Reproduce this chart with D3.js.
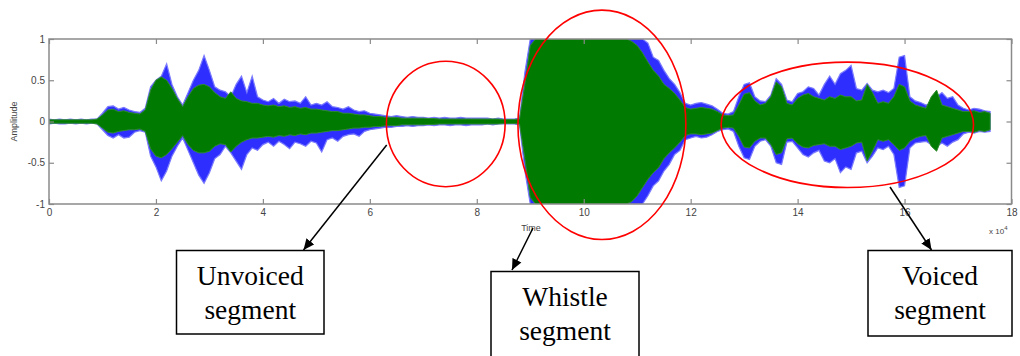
<!DOCTYPE html>
<html><head><meta charset="utf-8">
<script src="https://cdn.jsdelivr.net/npm/d3@7"></script>
<style>body{margin:0;background:#fff}svg{display:block}</style>
</head><body>
<svg id="c" width="1020" height="356"></svg>
<script>
// ---- data (time in units of 10^4 samples, amplitude -1..1) ----
const xTicks = [0,2,4,6,8,10,12,14,16,18];
const yTicks = [-1,-0.5,0,0.5,1];
const yTickLabels = ["-1","-0.5","0","0.5","1"];
const sampleStep = 0.1; // envelope read every 0.1 x 10^4 samples
const greenUp = [
0.02,0.02,0.02,0.02,0.02,0.02,0.02,0.02,0.02,0.03,
0.08,0.14,0.15,0.12,0.13,0.11,0.10,0.09,0.14,0.38,
0.50,0.54,0.50,0.40,0.28,0.18,0.30,0.40,0.44,0.45,
0.42,0.35,0.30,0.28,0.36,0.28,0.25,0.24,0.22,0.22,
0.20,0.19,0.20,0.18,0.19,0.17,0.18,0.16,0.17,0.15,
0.15,0.14,0.13,0.12,0.12,0.10,0.10,0.09,0.08,0.08,
0.07,0.06,0.06,0.05,0.05,0.05,0.04,0.04,0.04,0.04,
0.04,0.035,0.035,0.03,0.03,0.03,0.03,0.03,0.03,0.03,
0.03,0.03,0.03,0.03,0.03,0.025,0.025,0.025,0.03,0.45,
0.92,1,1,1,1,1,1,1,1,1,
1,1,1,1,1,1,1,1,1,0.97,
0.92,0.83,0.72,0.62,0.55,0.45,0.40,0.34,0.26,0.17,
0.15,0.16,0.17,0.16,0.15,0.12,0.08,0.07,0.08,0.20,
0.33,0.35,0.25,0.20,0.22,0.30,0.48,0.42,0.22,0.20,
0.28,0.32,0.34,0.30,0.28,0.26,0.30,0.28,0.32,0.30,
0.30,0.25,0.26,0.45,0.35,0.22,0.24,0.22,0.30,0.45,
0.42,0.25,0.20,0.18,0.16,0.30,0.38,0.20,0.18,0.16,
0.14,0.12,0.12,0.13,0.11,0.12,0.10];
const greenLo = [
-0.02,-0.02,-0.02,-0.02,-0.02,-0.02,-0.02,-0.02,-0.02,-0.03,
-0.08,-0.13,-0.14,-0.12,-0.11,-0.10,-0.10,-0.09,-0.12,-0.33,
-0.42,-0.44,-0.40,-0.33,-0.25,-0.17,-0.28,-0.35,-0.38,-0.38,
-0.36,-0.30,-0.27,-0.28,-0.37,-0.30,-0.25,-0.22,-0.20,-0.20,
-0.19,-0.18,-0.19,-0.17,-0.18,-0.16,-0.17,-0.15,-0.16,-0.14,
-0.14,-0.13,-0.12,-0.11,-0.11,-0.10,-0.09,-0.08,-0.08,-0.07,
-0.07,-0.06,-0.06,-0.05,-0.05,-0.05,-0.04,-0.04,-0.04,-0.04,
-0.04,-0.035,-0.035,-0.03,-0.03,-0.03,-0.03,-0.03,-0.03,-0.03,
-0.03,-0.03,-0.03,-0.03,-0.03,-0.025,-0.025,-0.025,-0.03,-0.45,
-0.92,-1,-1,-1,-1,-1,-1,-1,-1,-1,
-1,-1,-1,-1,-1,-1,-1,-1,-1,-0.97,
-0.90,-0.80,-0.70,-0.62,-0.56,-0.45,-0.38,-0.32,-0.25,-0.17,
-0.15,-0.15,-0.16,-0.15,-0.14,-0.11,-0.08,-0.07,-0.08,-0.18,
-0.31,-0.32,-0.24,-0.20,-0.20,-0.28,-0.40,-0.38,-0.21,-0.20,
-0.27,-0.31,-0.32,-0.29,-0.28,-0.27,-0.30,-0.30,-0.34,-0.32,
-0.30,-0.26,-0.25,-0.48,-0.36,-0.22,-0.24,-0.22,-0.28,-0.35,
-0.32,-0.24,-0.20,-0.18,-0.17,-0.30,-0.36,-0.20,-0.18,-0.16,
-0.14,-0.12,-0.12,-0.13,-0.11,-0.12,-0.10];
const blueUp = [
0.03,0.02,0.03,0.02,0.03,0.02,0.03,0.02,0.03,0.03,
0.10,0.18,0.19,0.15,0.17,0.14,0.12,0.11,0.16,0.42,
0.50,0.55,0.70,0.45,0.30,0.20,0.35,0.50,0.62,0.80,
0.62,0.42,0.38,0.36,0.30,0.45,0.55,0.35,0.55,0.30,
0.26,0.24,0.28,0.22,0.27,0.24,0.25,0.22,0.30,0.20,
0.22,0.20,0.24,0.18,0.17,0.15,0.18,0.14,0.12,0.13,
0.10,0.09,0.08,0.07,0.06,0.07,0.06,0.05,0.06,0.05,
0.05,0.04,0.05,0.04,0.05,0.04,0.04,0.05,0.04,0.04,
0.04,0.04,0.04,0.03,0.04,0.03,0.03,0.03,0.04,0.60,
1,1,1,1,1,1,1,1,1,1,
1,1,1,1,1,1,1,1,1,1,
1.0,1.0,0.95,0.78,0.74,0.62,0.52,0.45,0.35,0.22,
0.20,0.22,0.23,0.21,0.19,0.15,0.10,0.09,0.12,0.30,
0.45,0.47,0.30,0.25,0.24,0.32,0.52,0.45,0.26,0.24,
0.34,0.36,0.42,0.40,0.32,0.45,0.55,0.45,0.58,0.62,
0.68,0.40,0.38,0.46,0.38,0.36,0.38,0.35,0.40,0.78,
0.80,0.30,0.25,0.23,0.20,0.22,0.30,0.35,0.28,0.30,
0.20,0.16,0.14,0.16,0.15,0.13,0.12];
const blueLo = [
-0.03,-0.02,-0.03,-0.03,-0.02,-0.03,-0.02,-0.03,-0.02,-0.03,
-0.10,-0.17,-0.20,-0.16,-0.20,-0.19,-0.13,-0.11,-0.13,-0.42,
-0.55,-0.72,-0.60,-0.42,-0.30,-0.20,-0.35,-0.50,-0.65,-0.75,
-0.62,-0.45,-0.40,-0.30,-0.38,-0.48,-0.58,-0.40,-0.32,-0.35,
-0.28,-0.25,-0.30,-0.24,-0.28,-0.33,-0.25,-0.27,-0.30,-0.24,
-0.26,-0.37,-0.22,-0.20,-0.24,-0.18,-0.16,-0.15,-0.18,-0.12,
-0.10,-0.09,-0.08,-0.07,-0.07,-0.06,-0.06,-0.05,-0.06,-0.05,
-0.05,-0.04,-0.05,-0.04,-0.04,-0.05,-0.04,-0.04,-0.05,-0.04,
-0.04,-0.04,-0.03,-0.04,-0.03,-0.03,-0.03,-0.03,-0.04,-0.60,
-1,-1,-1,-1,-1,-1,-1,-1,-1,-1,
-1,-1,-1,-1,-1,-1,-1,-1,-1,-1,
-1.0,-1.0,-0.90,-0.78,-0.72,-0.60,-0.52,-0.40,-0.35,-0.22,
-0.20,-0.18,-0.20,-0.19,-0.16,-0.12,-0.10,-0.09,-0.12,-0.30,
-0.44,-0.46,-0.30,-0.24,-0.22,-0.30,-0.50,-0.52,-0.25,-0.24,
-0.32,-0.40,-0.43,-0.38,-0.35,-0.48,-0.50,-0.45,-0.62,-0.55,
-0.58,-0.38,-0.36,-0.50,-0.42,-0.32,-0.34,-0.30,-0.40,-0.80,
-0.78,-0.32,-0.26,-0.25,-0.24,-0.28,-0.30,-0.26,-0.30,-0.25,
-0.22,-0.15,-0.13,-0.14,-0.12,-0.13,-0.12];
// highlighted segments (ellipses in data units)
const segNames = ["Unvoiced","Whistle","Voiced"];
const segCenterT = [7.42, 10.34, 14.93];
const segCenterA = [-0.03, -0.04, -0.04];
const segRadT = [1.11, 1.57, 2.36];
const segRadA = [0.76, 1.39, 0.76];

// ---- drawing ----
const svg = d3.select("#c");
const W = 1020, H = 356;
const m = {l:49, r:8, t:39, b:152};
const x = d3.scaleLinear().domain([0,18]).range([m.l, W - m.r - 0.5]);
const y = d3.scaleLinear().domain([-1,1]).range([H - m.b, m.t]);

svg.append("rect").attr("width",W).attr("height",H).attr("fill","#fff");
const defs = svg.append("defs");
defs.append("filter").attr("id","soft").append("feGaussianBlur").attr("stdDeviation",0.5);

defs.append("clipPath").attr("id","plot").append("rect")
  .attr("x", x(0)).attr("y", y(1)).attr("width", x(18)-x(0)).attr("height", y(-1)-y(1));

const idx = d3.range(blueUp.length);
const tOf = i => i * sampleStep;
const g = svg.append("g").attr("clip-path","url(#plot)").append("g").attr("filter","url(#soft)");
const blueArea = d3.area().x(i => x(tOf(i))).y0(i => y(blueLo[i])).y1(i => y(blueUp[i]));
const greenArea = d3.area().x(i => x(tOf(i))).y0(i => y(greenLo[i])).y1(i => y(greenUp[i]));
g.append("path").datum(idx).attr("d", blueArea).attr("fill","#1a1aff").attr("fill-opacity",0.9)
  .attr("stroke","#7a7aff").attr("stroke-width",1.2);
g.append("path").datum(idx).attr("d", greenArea).attr("fill","#007a00").attr("stroke","#2d8a2d").attr("stroke-width",1);

// axes, MATLAB style (ticks inside, box)
const axCol = "#8a8a8a";
const styleAxis = sel => {
  sel.select(".domain").remove();
  sel.selectAll(".tick line").attr("stroke", axCol).attr("stroke-width", 1.2);
  sel.selectAll("text").attr("fill","#444").style("font-family","Arial, 'Liberation Sans', sans-serif").style("font-size","10px");
};
svg.append("g").attr("transform",`translate(0,${y(-1)})`)
  .call(d3.axisBottom(x).tickValues(xTicks).tickFormat(d3.format("d")).tickSizeInner(-5).tickSizeOuter(0).tickPadding(5))
  .call(styleAxis);
svg.append("g").attr("transform",`translate(0,${y(1)})`)
  .call(d3.axisTop(x).tickValues(xTicks).tickFormat("").tickSizeInner(-5).tickSizeOuter(0))
  .call(styleAxis);
svg.append("g").attr("transform",`translate(${x(0)},0)`)
  .call(d3.axisLeft(y).tickValues(yTicks).tickFormat((d,i) => yTickLabels[i]).tickSizeInner(-5).tickSizeOuter(0).tickPadding(4))
  .call(styleAxis);
svg.append("g").attr("transform",`translate(${x(18)},0)`)
  .call(d3.axisRight(y).tickValues(yTicks).tickFormat("").tickSizeInner(-5).tickSizeOuter(0))
  .call(styleAxis);
svg.append("rect").attr("x", x(0)).attr("y", y(1)).attr("width", x(18)-x(0)).attr("height", y(-1)-y(1))
  .attr("fill","none").attr("stroke", axCol).attr("stroke-width",1.5);

const small = {"font-family":"Arial, 'Liberation Sans', sans-serif", fill:"#444"};
const tl = svg.append("text").attr("x", 531).attr("y", 231).attr("text-anchor","middle").style("font-size","9px").text("Time");
const al = svg.append("text").attr("transform",`translate(17,${y(0)}) rotate(-90)`).attr("text-anchor","middle").style("font-size","9px").text("Amplitude");
const ex = svg.append("text").attr("x", 989).attr("y", 234).style("font-size","8px");
ex.append("tspan").text("x 10");
ex.append("tspan").attr("dy",-4).style("font-size","6px").text("4");
[tl, al, ex].forEach(s => s.attr("font-family", small["font-family"]).attr("fill", small.fill));

// ellipses
svg.append("g").selectAll("ellipse").data(segNames).join("ellipse")
  .attr("cx", (d,i) => x(segCenterT[i]))
  .attr("cy", (d,i) => y(segCenterA[i]))
  .attr("rx", (d,i) => x(segRadT[i]) - x(0))
  .attr("ry", (d,i) => y(0) - y(segRadA[i]))
  .attr("fill","none").attr("stroke","#f00").attr("stroke-width",1.6);

// arrows
defs.append("marker").attr("id","ah").attr("viewBox","0 0 10 10").attr("refX",10).attr("refY",5)
  .attr("markerWidth",11).attr("markerHeight",11).attr("markerUnits","userSpaceOnUse").attr("orient","auto")
  .append("path").attr("d","M0,0.5 L10,5 L0,9.5 Z").attr("fill","#000");
const arrows = [[386.7,145,303.5,250],[533,228,512,270],[890,187,931.5,250]];
svg.append("g").selectAll("line").data(arrows).join("line")
  .attr("x1",d=>d[0]).attr("y1",d=>d[1]).attr("x2",d=>d[2]).attr("y2",d=>d[3])
  .attr("stroke","#000").attr("stroke-width",1.5).attr("marker-end","url(#ah)");

// label boxes
const boxes = [
  {x0:176.5, y0:250.5, x1:324, y1:334, l1:"Unvoiced", b1:285, b2:318.5},
  {x0:491, y0:271.5, x1:639, y1:362, l1:"Whistle", b1:306, b2:340},
  {x0:868, y0:250.5, x1:1012, y1:336, l1:"Voiced", b1:285, b2:318.5}
];
const bg = svg.append("g");
boxes.forEach(b => {
  bg.append("rect").attr("x",b.x0).attr("y",b.y0).attr("width",b.x1-b.x0).attr("height",b.y1-b.y0)
    .attr("fill","#fff").attr("stroke","#000").attr("stroke-width",1.5);
  const cx = (b.x0+b.x1)/2;
  [[b.l1,b.b1],["segment",b.b2]].forEach(([t,yy]) =>
    bg.append("text").attr("x",cx).attr("y",yy).attr("text-anchor","middle")
      .attr("font-family","'Liberation Serif','Times New Roman',serif").attr("font-size","27.5px").attr("fill","#000").text(t));
});
</script>
</body></html>
